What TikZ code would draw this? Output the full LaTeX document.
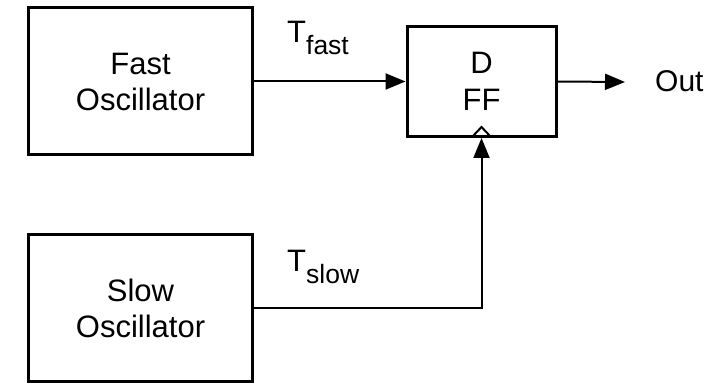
\documentclass[tikz,border=0pt]{standalone}
\usepackage{fontspec}
\setmainfont{Liberation Sans}
\usetikzlibrary{arrows.meta}
\begin{document}
\begin{tikzpicture}[x=1pt,y=-1pt,
  block/.style={draw, line width=3pt, rectangle, align=center, inner sep=0pt,
    font=\fontsize{31}{36}\selectfont},
  wire/.style={line width=2pt},
  arr/.style={wire, -{Triangle[length=20pt,width=16pt]}},
  lbl/.style={inner sep=0pt, anchor=base west}]
\useasboundingbox (0,0) rectangle (725,387);
\node[block, minimum width=224pt, minimum height=147pt] (fast) at (140.5,81.5) {Fast\\Oscillator};
\node[block, minimum width=224pt, minimum height=147pt] (slow) at (140.5,308) {Slow\\Oscillator};
\node[block, minimum width=149pt, minimum height=110pt, font=\fontsize{31}{37}\selectfont] (dff) at (481.5,81.5) {D\\FF};
\coordinate (outend) at (625,82);
\coordinate (corner) at (dff.south |- slow.east);
\draw[arr] (fast.east) -- (dff.west);
\draw[arr] (dff.east) -- (outend);
\draw[arr] (slow.east) -- (corner) -- (dff.south);
\draw[wire, line join=miter] ([xshift=-8.5pt,yshift=2pt]dff.south) -- ([yshift=11pt]dff.south) -- ([xshift=8.5pt,yshift=2pt]dff.south);
\node[lbl] (tfast) at (287,43) {{\fontsize{31}{31}\selectfont T}\raisebox{-12pt}{\fontsize{26.5}{26.5}\selectfont fast}};
\node[lbl] (tslow) at (287,272) {{\fontsize{31}{31}\selectfont T}\raisebox{-11.5pt}{\fontsize{26.5}{26.5}\selectfont slow}};
\node[lbl, font=\fontsize{30}{30}\selectfont] (out) at (655,92) {Out};
\end{tikzpicture}
\end{document}
